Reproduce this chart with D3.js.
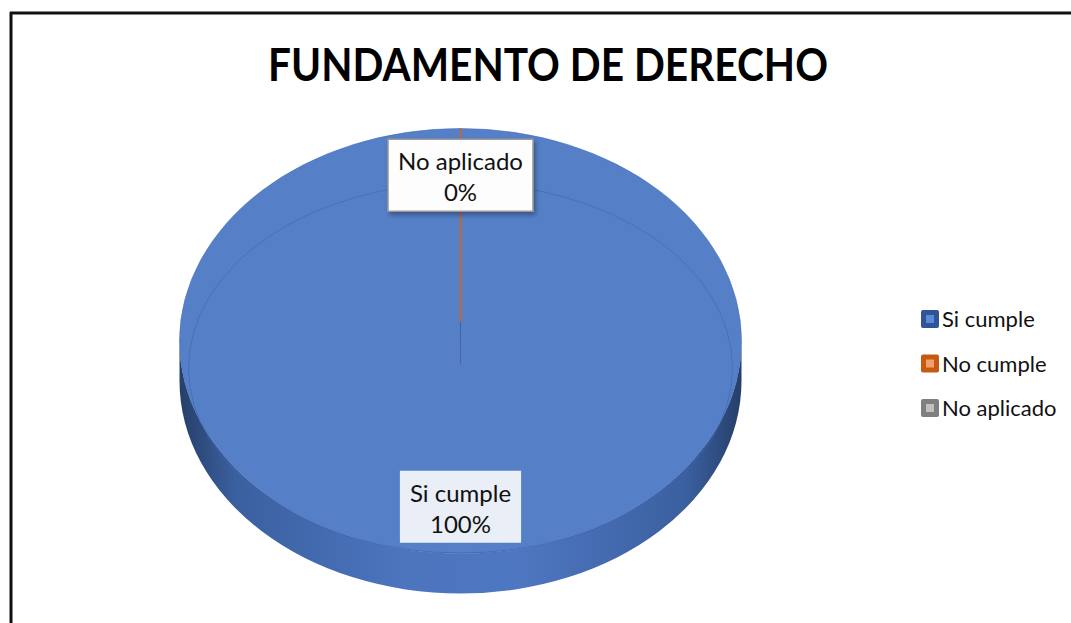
<!DOCTYPE html>
<html>
<head>
<meta charset="utf-8">
<script src="https://cdn.jsdelivr.net/npm/d3@7"></script>
<style>
  html, body { margin: 0; padding: 0; background: #fff; }
  svg { display: block; font-family: Lato, "Liberation Sans", sans-serif; }
</style>
</head>
<body>
<svg id="chart" width="1071" height="623"></svg>
<script>
const TITLE = "FUNDAMENTO DE DERECHO";
const categories = ["Si cumple", "No cumple", "No aplicado"];
const values = [100, 0, 0];
const showLabel = [true, false, true];
const topColors = ["#5580c8", "#ed7d31", "#a5a5a5"];
const legendOuter = ["#2f5597", "#c55a11", "#7f7f7f"];
const legendInner = ["#5b8bd6", "#f4a06a", "#c0c0c0"];

const svg = d3.select("#chart"),
  width = +svg.attr("width"),
  height = +svg.attr("height");

const defs = svg.append("defs");

const sideGrad = defs.append("linearGradient")
  .attr("id", "side").attr("x1", "0%").attr("x2", "100%");
[["0%", "#263f6a"], ["10%", "#3b60a0"], ["40%", "#4c75be"], ["60%", "#4e77c1"], ["90%", "#3b60a0"], ["100%", "#263f6a"]]
  .forEach(s => sideGrad.append("stop").attr("offset", s[0]).attr("stop-color", s[1]));

const shadow = defs.append("filter").attr("id", "shadow")
  .attr("x", "-20%").attr("y", "-20%").attr("width", "140%").attr("height", "150%");
shadow.append("feDropShadow").attr("dx", 2).attr("dy", 3).attr("stdDeviation", 2.5)
  .attr("flood-color", "#000").attr("flood-opacity", 0.35);

// frame
svg.append("line").attr("x1", 10).attr("x2", width).attr("y1", 13).attr("y2", 13)
  .attr("stroke", "#111").attr("stroke-width", 3);
svg.append("line").attr("x1", 11).attr("x2", 11).attr("y1", 12).attr("y2", height)
  .attr("stroke", "#111").attr("stroke-width", 3);

// title
svg.append("text")
  .attr("x", 548).attr("y", 81)
  .attr("text-anchor", "middle")
  .attr("font-weight", "bold")
  .attr("font-size", 46)
  .attr("textLength", 560)
  .attr("lengthAdjust", "spacingAndGlyphs")
  .attr("fill", "#000")
  .text(TITLE);

// pie geometry
const cx = 460.5, cy = 341, rx = 281, ry = 212.5, depth = 40, apexY = 364;

const pie = d3.pie().sort(null).value(d => d);
const arcs = pie(values);

const arc = d3.arc().innerRadius(0).outerRadius(rx);

const pieG = svg.append("g");

// side wall (front half)
const sidePath = `M${cx - rx},${cy} L${cx - rx},${cy + depth}
  A${rx},${ry} 0 0 0 ${cx + rx},${cy + depth}
  L${cx + rx},${cy} A${rx},${ry} 0 0 1 ${cx - rx},${cy} Z`;
pieG.append("path").attr("d", sidePath).attr("fill", "url(#side)");

// top faces
pieG.append("g")
  .attr("transform", `translate(${cx},${cy}) scale(1,${ry / rx})`)
  .selectAll("path")
  .data(arcs)
  .join("path")
  .attr("d", arc)
  .attr("fill", (d, i) => topColors[i])
  .attr("stroke", "#4a70b8")
  .attr("stroke-width", 0.6)
  .attr("vector-effect", "non-scaling-stroke");

// bevel ring
pieG.append("ellipse")
  .attr("cx", cx).attr("cy", 368).attr("rx", 272).attr("ry", 185)
  .attr("fill", "none").attr("stroke", "#4066ad").attr("stroke-width", 1).attr("opacity", 0.6);

// slice edges (zero-size slices collapse onto a line)
arcs.filter(d => d.startAngle === d.endAngle).forEach(d => {
  const a = d.startAngle;
  const ex = cx + rx * Math.sin(a), ey = cy - ry * Math.cos(a);
  pieG.append("line")
    .attr("x1", ex).attr("y1", ey).attr("x2", cx).attr("y2", apexY)
    .attr("stroke", "#40609f").attr("stroke-width", 1).attr("opacity", 0.5);
  pieG.append("line")
    .attr("x1", ex).attr("y1", ey).attr("x2", ex).attr("y2", ey + (apexY - ey) * 0.82)
    .attr("stroke", "#c0673a")
    .attr("stroke-width", 1.6);
});

// data labels
const labelFactor = 0.78;
const fmt = d3.format(".0%");
const total = d3.sum(values);
arcs.forEach((d, i) => {
  if (!showLabel[i]) return;
  const a = (d.startAngle + d.endAngle) / 2 % (2 * Math.PI);
  const lx = cx + rx * labelFactor * Math.sin(a);
  const ly = cy - ry * labelFactor * Math.cos(a);
  const g = svg.append("g").attr("transform", `translate(${lx},${ly})`);
  const t1 = categories[i], t2 = fmt(values[i] / total);
  const temp = g.append("text").attr("font-size", 24).text(t1);
  const w = Math.max(temp.node().getComputedTextLength(), 40) + 20;
  temp.remove();
  const isBig = values[i] / total > 0.5;
  g.append("rect")
    .attr("x", -w / 2).attr("y", -36).attr("width", w).attr("height", 72)
    .attr("fill", isBig ? "#eaeef6" : "#fdfdfd")
    .attr("stroke", isBig ? "none" : "#9a9a9a")
    .attr("stroke-width", 1.5)
    .attr("filter", isBig ? null : "url(#shadow)");
  g.append("text").attr("text-anchor", "middle").attr("y", -5)
    .attr("font-size", 24).attr("fill", "#111").text(t1);
  g.append("text").attr("text-anchor", "middle").attr("y", 26)
    .attr("font-size", 24).attr("fill", "#111").text(t2);
});

// legend
const legendY = d3.scalePoint().domain(categories).range([319, 408]);
const lg = svg.append("g").selectAll("g")
  .data(categories)
  .join("g")
  .attr("transform", d => `translate(921,${legendY(d)})`);
lg.append("rect")
  .attr("x", 0).attr("y", -9).attr("width", 18).attr("height", 18).attr("rx", 2)
  .attr("fill", (d, i) => legendOuter[i]);
lg.append("rect")
  .attr("x", 5).attr("y", -4).attr("width", 8).attr("height", 8)
  .attr("fill", (d, i) => legendInner[i]);
lg.append("text")
  .attr("x", 21).attr("y", 8)
  .attr("font-size", 22)
  .attr("fill", "#111")
  .text(d => d);
</script>
</body>
</html>
